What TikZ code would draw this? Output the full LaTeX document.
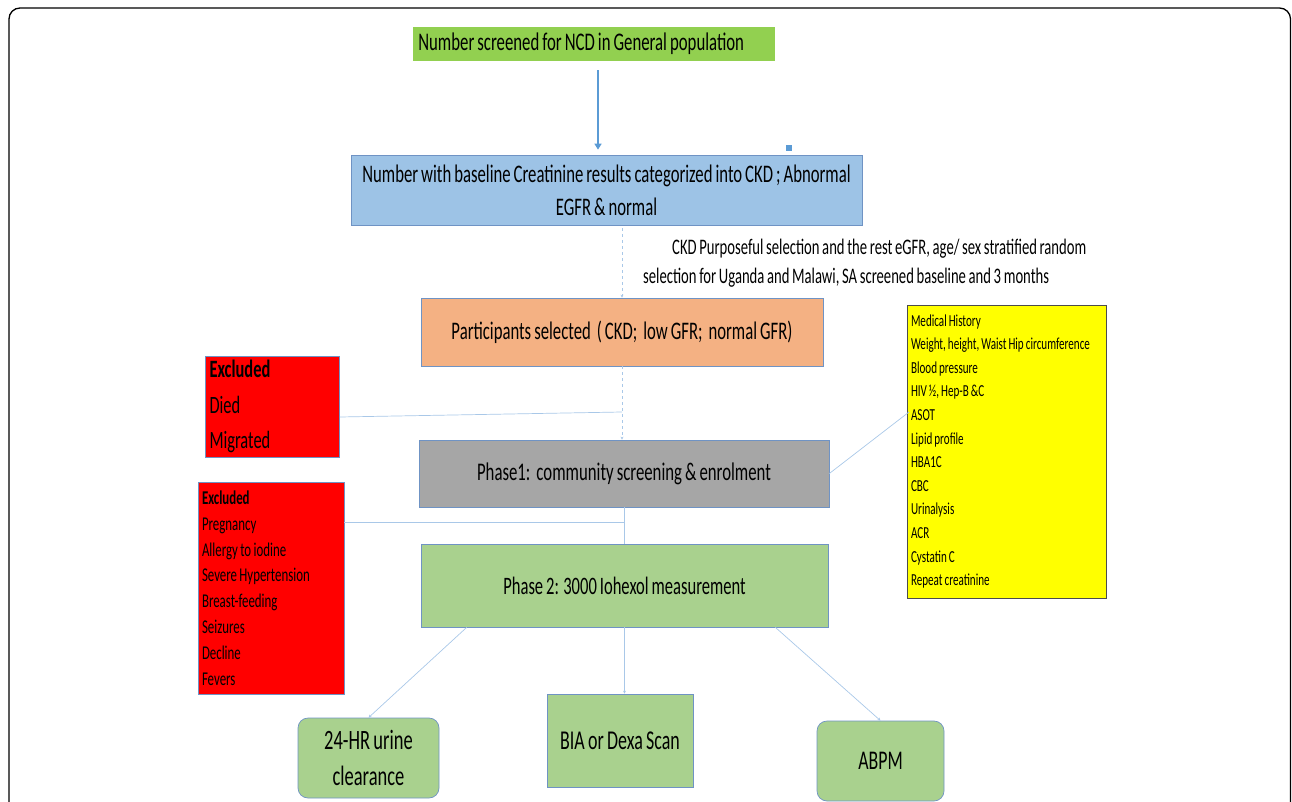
\documentclass[tikz,border=0pt]{standalone}
\usepackage{fontspec}
\setmainfont{Carlito}[FakeStretch=0.66, WordSpace=0.8]
\usepackage{tikz}
\usetikzlibrary{arrows.meta,positioning,calc}

\definecolor{topgreen}{HTML}{92D050}
\definecolor{baseblue}{HTML}{9DC3E6}
\definecolor{peach}{HTML}{F4B183}
\definecolor{phasegray}{HTML}{A6A6A6}
\definecolor{phasegreen}{HTML}{A9D18E}
\definecolor{exred}{HTML}{FF0000}
\definecolor{testyellow}{HTML}{FFFF00}
\definecolor{boxline}{HTML}{6F93C4}
\definecolor{linkblue}{HTML}{5B9BD5}
\definecolor{faintblue}{HTML}{A9C8E8}

\tikzset{
  box/.style={draw=boxline, line width=0.7pt, inner sep=4pt, align=center},
  listbox/.style={box, align=left, execute at begin node={\spaceskip=0pt\xspaceskip=0pt}},
  conn/.style={draw=faintblue, line width=0.7pt},
  tip/.style={-{Stealth[length=3pt,width=3pt]}},
}

\begin{document}
\begin{tikzpicture}[x=1pt, y=-1pt]
    \useasboundingbox (0,0) rectangle (1292,802);

    % Outer frame (runs off the bottom and right edges)
    \begin{scope}
      \clip (0,0) rectangle (1292,802);
      \draw[line width=1.3pt, rounded corners=11pt] (9,8) rectangle (1290.5,840);
    \end{scope}

    % Main column
    \node[box, draw=none, fill=topgreen, minimum height=34pt, inner xsep=5pt, inner ysep=0pt, anchor=west,
          font=\fontsize{25.4}{28}\selectfont] (screened) at (413,44)
          {\makebox[352pt][l]{Number screened for NCD in General population}};
    \node[box, fill=baseblue, minimum width=511pt, minimum height=70pt,
          font=\fontsize{25.3}{33}\selectfont] (baseline) at (606.5,190)
          {Number with baseline Creatinine results categorized into CKD ; Abnormal\\EGFR \& normal};
    \node[box, fill=peach, minimum width=402pt, minimum height=68pt,
          font=\fontsize{25.3}{28}\selectfont] (selected) at (622,332)
          {Participants selected\ \ ( CKD;\ \ low GFR;\ \ normal GFR)};
    \node[box, fill=phasegray, minimum width=410pt, minimum height=67pt,
          font=\fontsize{25.4}{28}\selectfont] (phaseone) at (624,473.5)
          {Phase1:\ \ community screening \& enrolment};
    \node[box, fill=phasegreen, minimum width=407pt, minimum height=83pt,
          font=\fontsize{25.1}{28}\selectfont] (phasetwo) at (624.5,585.5)
          {Phase 2: 3000 Iohexol measurement};

    % Selection note
    \node[anchor=west, align=left, inner sep=0pt, font=\fontsize{22.2}{29}\selectfont] (note) at (643,263)
          {\hspace*{29pt}CKD Purposeful selection and the rest eGFR, age/ sex stratified random\\
           selection for Uganda and Malawi, SA screened baseline and 3 months};

    % Stray marker
    \node[fill=linkblue, minimum size=6pt, inner sep=0pt] (marker) at (789,148) {};

    % Exclusion boxes
    \node[listbox, fill=exred, minimum width=134pt, minimum height=100pt, text width=126pt,
          font=\fontsize{24.9}{35.5}\selectfont] (dropout) at (272.5,406.5)
          {\textbf{Excluded}\\Died\\Migrated};
    \node[listbox, fill=exred, minimum width=146pt, minimum height=212pt, text width=138pt,
          font=\fontsize{19.5}{25.8}\selectfont] (exclusion) at (271,588)
          {\textbf{Excluded}\\Pregnancy\\Allergy to iodine\\Severe Hypertension\\Breast-feeding\\Seizures\\Decline\\Fevers};

    % Screening measurements
    \node[listbox, draw=black!70, fill=testyellow, minimum width=199pt, minimum height=293pt, text width=191pt,
          font=\fontsize{16.8}{23.6}\selectfont] (tests) at (1006.5,451.5)
          {Medical History\\Weight, height, Waist Hip circumference\\Blood pressure\\HIV ½, Hep-B \&C\\ASOT\\Lipid profile\\HBA1C\\CBC\\Urinalysis\\ACR\\Cystatin C\\Repeat creatinine};

    % Phase 2 sub-studies
    \node[box, fill=phasegreen, rounded corners=10pt, minimum width=141pt, minimum height=80pt,
          font=\fontsize{28}{36}\selectfont] (urine) at (368.5,758) {24-HR urine\\clearance};
    \node[box, fill=phasegreen, minimum width=146pt, minimum height=93pt,
          font=\fontsize{27.2}{30}\selectfont] (bia) at (620,740.5) {BIA or Dexa Scan};
    \node[box, fill=phasegreen, rounded corners=10pt, minimum width=127pt, minimum height=80pt,
          font=\fontsize{27}{30}\selectfont] (abpm) at (880.5,761) {ABPM};

    % Connectors
    \coordinate (arrowx) at (598,0);
    \coordinate (joinone) at (622,412);
    \coordinate (jointwo) at (625,522);
    \coordinate (asot) at (909,412);

    \draw[draw=linkblue, line width=2.6pt, -{Triangle[length=6pt,width=7pt]}, shorten <=9pt, shorten >=5pt]
          (screened.south -| arrowx) -- (baseline.north -| arrowx);
    \draw[conn, dashed, tip, shorten <=3pt] (baseline.south -| selected.north) -- (selected.north);
    \draw[conn, dashed, tip] (selected.south) -- (selected.south |- phaseone.north);
    \draw[conn] ($(dropout.east)+(0,10.5)$) -- (joinone);
    \draw[conn] (phaseone.east) -- (asot);
    \draw[conn] (phaseone.south) -- (phaseone.south |- phasetwo.north);
    \draw[conn] (exclusion.east |- jointwo) -- (jointwo);
    \draw[conn, tip] ($(phasetwo.south west)!0.113!(phasetwo.south east)$) -- (urine.north);
    \draw[conn, tip] (phasetwo.south) -- (phasetwo.south |- bia.north);
    \draw[conn, tip] ($(phasetwo.south west)!0.87!(phasetwo.south east)$) -- (abpm.north);
\end{tikzpicture}
\end{document}
